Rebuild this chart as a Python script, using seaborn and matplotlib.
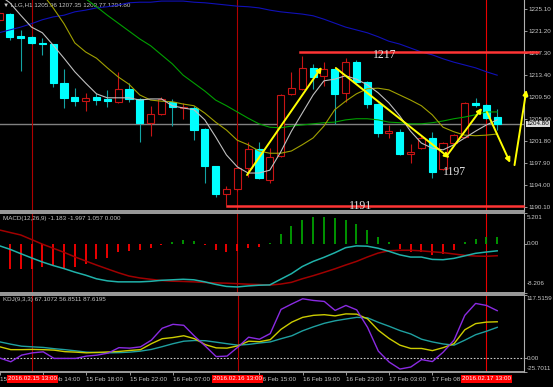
import numpy as np
import pandas as pd
import matplotlib
matplotlib.use('Agg')
import matplotlib.pyplot as plt
from matplotlib.patches import Rectangle
import seaborn as sns

# LLG H1 candles (oldest first)
opens = [1223.2, 1224.2, 1220.3, 1220.15, 1219.1, 1218.9, 1212.0, 1209.55, 1208.85, 1209.55,
         1209.25, 1208.65, 1210.95, 1209.2, 1204.95, 1206.55, 1208.65, 1207.6, 1207.6, 1203.9,
         1197.35, 1192.4, 1193.3, 1197.0, 1200.35, 1194.85, 1199.1, 1210.05, 1210.95, 1214.65,
         1213.25, 1214.5, 1210.25, 1215.75, 1212.2, 1208.3, 1203.2, 1203.35, 1199.45, 1200.55,
         1202.3, 1196.8, 1201.4, 1202.45, 1208.5, 1208.15, 1205.96]
highs = [1224.9, 1224.4, 1221.4, 1220.3, 1220.0, 1219.0, 1214.5, 1211.15, 1210.25, 1210.25,
         1210.8, 1213.95, 1212.0, 1209.3, 1207.95, 1209.55, 1209.2, 1208.5, 1207.95, 1204.0,
         1197.4, 1193.8, 1197.2, 1201.6, 1201.6, 1200.55, 1210.1, 1213.95, 1216.8, 1215.4,
         1215.75, 1214.6, 1216.45, 1216.1, 1212.3, 1208.4, 1204.6, 1203.9, 1201.25, 1202.85,
         1203.35, 1201.6, 1203.0, 1208.65, 1209.35, 1208.3, 1207.35]
lows = [1222.8, 1219.6, 1214.1, 1218.9, 1217.0, 1211.3, 1207.6, 1207.95, 1207.05, 1208.15,
        1207.8, 1208.5, 1208.65, 1201.6, 1202.65, 1206.35, 1204.4, 1205.65, 1201.95, 1194.35,
        1191.85, 1190.45, 1193.0, 1195.4, 1195.0, 1194.35, 1198.9, 1209.9, 1210.8, 1210.95,
        1211.5, 1204.75, 1208.65, 1212.0, 1207.6, 1202.45, 1202.3, 1199.3, 1197.9, 1200.4,
        1195.25, 1196.6, 1201.2, 1202.3, 1207.8, 1205.6, 1203.77]
closes = [1224.4, 1220.15, 1220.0, 1219.1, 1218.9, 1212.0, 1209.4, 1208.85, 1209.35, 1209.1,
          1208.85, 1210.95, 1209.2, 1204.95, 1206.55, 1209.2, 1207.8, 1207.8, 1203.7, 1197.35,
          1192.4, 1193.3, 1197.0, 1200.35, 1195.25, 1198.95, 1209.9, 1211.15, 1214.65, 1213.1,
          1214.5, 1210.05, 1215.75, 1212.2, 1208.3, 1203.2, 1203.55, 1199.45, 1199.8, 1202.3,
          1196.3, 1201.4, 1202.85, 1208.5, 1208.15, 1205.85, 1204.80]

# moving averages drawn on the price chart
ma_silver = [1227.6, 1226.2, 1224.0, 1221.9, 1220.9, 1218.7, 1216.4, 1214.0, 1212.0, 1210.1,
             1209.4, 1209.4, 1209.4, 1209.0, 1209.2, 1209.2, 1208.0, 1207.6, 1207.3, 1205.5,
             1202.5, 1199.3, 1197.2, 1196.1, 1196.1, 1196.6, 1199.8, 1203.5, 1206.7, 1209.9,
             1212.4, 1212.7, 1213.3, 1212.7, 1211.7, 1210.3, 1208.5, 1206.2, 1203.5, 1201.4,
             1200.5, 1200.2, 1201.1, 1202.3, 1203.5, 1204.6, 1205.5]
ma_olive = [1237.3, 1235.0, 1232.7, 1230.2, 1227.8, 1225.3, 1222.5, 1219.1, 1217.5, 1216.4,
            1214.7, 1213.1, 1211.8, 1209.9, 1209.0, 1208.8, 1208.7, 1208.3, 1208.0, 1206.7,
            1205.1, 1203.7, 1201.9, 1201.1, 1200.0, 1199.6, 1199.6, 1200.0, 1201.1, 1202.3,
            1204.4, 1207.3, 1208.8, 1210.1, 1211.0, 1211.1, 1210.8, 1209.9, 1209.0, 1208.0,
            1206.4, 1204.2, 1203.4, 1202.8, 1202.7, 1202.8, 1203.0]
ma_green = [1238.4, 1236.9, 1235.5, 1234.1, 1232.7, 1231.1, 1229.7, 1228.3, 1226.9, 1225.5,
            1224.0, 1222.6, 1221.2, 1219.8, 1218.6, 1217.0, 1215.4, 1213.4, 1212.0, 1210.6,
            1209.0, 1208.0, 1206.9, 1205.8, 1204.8, 1204.2, 1204.1, 1204.4, 1204.6, 1204.8,
            1205.0, 1205.1, 1205.5, 1205.7, 1205.7, 1205.5, 1205.1, 1205.0, 1204.8, 1204.8,
            1205.0, 1205.3, 1205.7, 1206.0, 1206.4, 1206.9, 1206.9]
ma_blue = [1220.9, 1221.4, 1221.9, 1222.5, 1223.2, 1223.7, 1224.0, 1224.6, 1224.9, 1225.3,
           1225.5, 1225.8, 1226.2, 1226.3, 1226.3, 1226.5, 1226.5, 1226.5, 1226.3, 1226.2,
           1226.0, 1225.8, 1225.6, 1225.5, 1225.3, 1224.9, 1224.6, 1224.4, 1224.2, 1223.9,
           1223.3, 1222.6, 1221.9, 1221.4, 1220.9, 1220.2, 1219.4, 1218.9, 1218.2, 1217.5,
           1217.0, 1216.3, 1215.7, 1215.2, 1214.7, 1214.0, 1213.4]

# MACD(12,26,9)
macd_main = [-0.32, -0.92, -1.65, -2.36, -3.04, -3.63, -4.14, -4.73, -5.24, -5.84,
             -6.18, -6.35, -6.35, -6.35, -6.26, -6.09, -6.01, -5.92, -6.01, -6.35,
             -6.77, -7.11, -7.20, -7.03, -6.91, -6.86, -5.92, -4.99, -3.80, -2.95,
             -2.27, -1.51, -0.66, -0.36, -0.41, -0.75, -1.26, -1.85, -2.22, -2.22,
             -2.61, -2.66, -2.44, -2.02, -1.60, -1.38, -1.183]
macd_signal = [2.31, 1.88, 1.46, 0.70, -0.07, -0.75, -1.43, -2.19, -2.87, -3.55,
               -4.19, -4.82, -5.38, -5.70, -5.92, -6.13, -6.24, -6.28, -6.35, -6.45,
               -6.52, -6.57, -6.65, -6.74, -6.80, -6.89, -6.72, -6.43, -5.84, -5.33,
               -4.77, -4.19, -3.55, -2.95, -2.22, -1.56, -1.17, -1.09, -1.09, -1.19,
               -1.34, -1.48, -1.71, -1.93, -2.05, -2.09, -1.997]
macd_hist = [-3.63, -4.19, -4.19, -4.19, -3.80, -3.63, -4.09, -3.92, -3.34, -2.61,
             -2.39, -1.37, -1.20, -1.09, -0.70, -0.24, 0.32, 0.61, 0.44, -0.24,
             -1.09, -1.37, -1.26, -0.70, -0.53, 0.05, 1.63, 2.87, 3.89, 4.40,
             4.51, 4.29, 4.00, 3.33, 2.31, 1.07, 0.22, -0.92, -1.37, -1.37,
             -1.82, -1.65, -1.09, 0.22, 0.78, 1.07, 1.057]

# KDJ(9,3,3)
kdj_k = [20.8, 15.6, 15.6, 16.0, 15.6, 14.7, 11.9, 11.0, 9.7, 10.5,
         11.4, 12.3, 14.1, 15.6, 26.6, 35.8, 38.0, 41.3, 35.8, 24.8,
         18.9, 18.4, 22.6, 31.2, 30.3, 34.0, 53.2, 66.5, 75.3, 79.0,
         80.2, 78.0, 81.7, 81.2, 72.5, 51.4, 36.2, 23.9, 17.8, 17.8,
         13.8, 19.3, 26.6, 52.3, 63.7, 66.5, 67.1072]
kdj_d = [29.9, 25.7, 22.0, 20.8, 19.7, 17.4, 15.6, 13.4, 11.0, 10.3,
         9.7, 10.1, 11.0, 12.9, 16.0, 21.1, 26.6, 31.2, 32.5, 32.1,
         29.4, 26.6, 23.9, 25.3, 27.9, 29.9, 35.8, 41.3, 50.5, 57.8,
         64.3, 68.9, 72.2, 75.3, 74.4, 66.1, 58.8, 50.9, 44.6, 34.9,
         29.9, 26.1, 23.9, 33.1, 43.2, 49.6, 56.8511]
kdj_j = [0.0, -6.8, 5.5, 9.7, 11.6, -0.6, -0.6, -0.6, 3.7, 5.5,
         9.2, 19.3, 18.4, 20.8, 33.1, 55.1, 62.4, 60.6, 40.4, 22.0,
         2.8, 3.7, 20.2, 38.6, 34.9, 45.3, 90.0, 100.1, 109.6, 106.5,
         104.7, 88.1, 97.3, 89.1, 56.9, 12.9, -7.3, -20.2, -16.5, -2.8,
         -6.4, 11.0, 33.1, 79.0, 101.0, 97.3, 87.6195]

price_ticks = [1225.10, 1221.20, 1217.30, 1213.40, 1209.50, 1205.60, 1201.80, 1197.90, 1194.00, 1190.10]
last_price = 1204.80
# time labels fully hidden behind the red date boxes are left out
time_bars = [0, 4, 8, 12, 16, 24, 28, 32, 36, 40]
time_labels = ['15 Feb 10:00', '15 Feb 14:00', '15 Feb 18:00', '15 Feb 22:00', '16 Feb 07:00',
               '16 Feb 15:00', '16 Feb 19:00', '16 Feb 23:00', '17 Feb 03:00', '17 Feb 08:00']
vline_bars = [3, 22, 45]
vline_labels = ['2016.02.15 13:00', '2016.02.16 13:00', '2016.02.17 13:00']
resistance = 1217.5
support = 1190.27

df = pd.DataFrame({'bar': np.arange(len(closes)), 'open': opens, 'high': highs,
                   'low': lows, 'close': closes})

small = 4.5
txt = '#C8C8C8'
fig = plt.figure(figsize=(5.53, 3.87), dpi=100, facecolor='black')
W, H = 553.0, 387.0


def panel(top, bottom):
    a = fig.add_axes([0, 1 - bottom / H, 523.5 / W, (bottom - top) / H])
    a.set_facecolor('black')
    a.spines['left'].set_visible(False)
    a.spines['right'].set_color('#B0B0B0')
    a.spines['right'].set_linewidth(0.8)
    for s in ['top', 'bottom']:
        a.spines[s].set_color('#A8A8A8')
        a.spines[s].set_linewidth(1.3)
    a.set_xlim(0.09, 48.43)
    a.yaxis.tick_right()
    a.tick_params(axis='y', length=2, width=0.6, color='#B0B0B0', labelsize=small,
                  labelcolor=txt, pad=1.5)
    return a


ax = panel(0, 211)
ax.spines['top'].set_visible(False)
ax_m = panel(212.5, 293)
ax_k = panel(294.5, 372)

# ---- price panel ----
ax.set_ylim(1189.39, 1226.69)
ax.axhline(last_price, color='#808080', lw=1.0, zorder=2)
bw = 0.66
for r in df.itertuples():
    up = r.close >= r.open
    edge = '#C81414' if up else '#00FFFF'
    wick = '#C81414' if up else '#13A3A3'
    ax.vlines(r.bar, r.low, r.high, color=wick, lw=0.8, zorder=3)
    lo, hi = min(r.open, r.close), max(r.open, r.close)
    ax.add_patch(Rectangle((r.bar - bw / 2, lo), bw, max(hi - lo, 0.15),
                           facecolor='black' if up else '#00FFFF',
                           edgecolor=edge, lw=0.8, zorder=4))

for vals, col in [(ma_blue, '#1010B8'), (ma_green, '#00A000'),
                  (ma_olive, '#A0A000'), (ma_silver, '#C0C0C0')]:
    sns.lineplot(x=df['bar'], y=vals, ax=ax, color=col, linewidth=0.8, zorder=5, legend=False)

ax.plot([27.8, 49.8], [resistance] * 2, color='#FF3434', lw=1.8, clip_on=False, zorder=6)
ax.plot([21.06, 48.4], [support] * 2, color='#FF3434', lw=1.8, clip_on=False, zorder=6)
serif = dict(family='Liberation Serif', fontsize=8.5, color='#E4E4E4', zorder=7)
ax.text(35.6, 1216.9, '1217', ha='center', va='center', **serif)
ax.text(33.4, 1190.2, '1191', ha='center', va='center', **serif)
ax.text(42.1, 1196.3, '1197', ha='center', va='center', **serif)

arrows = [((22.9, 1195.75), (29.8, 1214.85)), ((31.1, 1214.67), (41.6, 1198.76)),
          ((41.4, 1199.3), (44.6, 1207.6)), ((45.05, 1206.9), (47.2, 1197.9)),
          ((47.6, 1197.5), (48.7, 1210.8))]
for start, end in arrows:
    ax.annotate('', xy=end, xytext=start, annotation_clip=False, zorder=8,
                arrowprops=dict(arrowstyle='-|>', color='#FFFF00', lw=1.4,
                                mutation_scale=7, shrinkA=0, shrinkB=0))

ax.set_yticks(price_ticks)
ax.set_yticklabels(['%.2f' % v for v in price_ticks])
ax.set_xticks([])
ax.text(1.006, last_price, '%.2f' % last_price, transform=ax.get_yaxis_transform(),
        fontsize=small, color='black', va='center', ha='left', zorder=9,
        bbox=dict(facecolor='#DCDCDC', edgecolor='none', pad=0.5))
ax.text(0.006, 0.976, '\u25bc LLG,H1 1205.96 1207.35 1203.77 1204.80', transform=ax.transAxes,
        fontsize=small, color=txt, va='center', ha='left', family=['Liberation Sans', 'DejaVu Sans'])

# ---- MACD panel ----
ax_m.set_ylim(-8.206, 5.201)
hist_cols = ['#00A000' if v > 0 else '#FF0000' for v in macd_hist]
ax_m.vlines(df['bar'], 0, macd_hist, colors=hist_cols, lw=1.3, zorder=3)
sns.lineplot(x=df['bar'], y=macd_signal, ax=ax_m, color='#A00000', linewidth=1.1, zorder=4, legend=False)
sns.lineplot(x=df['bar'], y=macd_main, ax=ax_m, color='#20B2AA', linewidth=1.1, zorder=5, legend=False)
ax_m.set_xticks([])
ax_m.set_yticks([5.201, 0, -8.206])
ax_m.set_yticklabels([])
ax_m.text(1.006, 0.944, '5.201', transform=ax_m.transAxes, fontsize=small, color=txt, va='center')
ax_m.text(1.006, 0.0, '0.00', transform=ax_m.get_yaxis_transform(), fontsize=small, color=txt, va='center')
ax_m.text(1.006, 0.112, '-8.206', transform=ax_m.transAxes, fontsize=small, color=txt, va='center')
ax_m.text(0.006, 0.92, 'MACD(12,26,9) -1.183 -1.997 1.057 0.000', transform=ax_m.transAxes,
          fontsize=small, color=txt, va='center')

# ---- KDJ panel ----
ax_k.set_ylim(-25.7011, 117.5159)
ax_k.axhline(0, color='#C8C8C8', lw=0.8, ls=(0, (1.5, 1.5)), zorder=2)
sns.lineplot(x=df['bar'], y=kdj_d, ax=ax_k, color='#1FA0A0', linewidth=1.0, zorder=3, legend=False)
sns.lineplot(x=df['bar'], y=kdj_k, ax=ax_k, color='#CCCC00', linewidth=1.0, zorder=4, legend=False)
sns.lineplot(x=df['bar'], y=kdj_j, ax=ax_k, color='#8A2BE2', linewidth=1.0, zorder=5, legend=False)
ax_k.set_yticks([117.5159, 0, -25.7011])
ax_k.set_yticklabels([])
ax_k.text(1.006, 0.942, '117.5159', transform=ax_k.transAxes, fontsize=small, color=txt, va='center')
ax_k.text(1.006, 0.0, '0.00', transform=ax_k.get_yaxis_transform(), fontsize=small, color=txt, va='center')
ax_k.text(1.006, 0.045, '-25.7011', transform=ax_k.transAxes, fontsize=small, color=txt, va='center')
ax_k.text(0.006, 0.93, 'KDJ(9,3,3) 67.1072 56.8511 87.6195', transform=ax_k.transAxes,
          fontsize=small, color=txt, va='center')
ax_k.set_xticks(time_bars)
ax_k.set_xticklabels(time_labels, ha='left')
ax_k.tick_params(axis='x', length=2, width=0.6, color='#B0B0B0', labelsize=small,
                 labelcolor=txt, pad=1.5)
for b, lab in zip(vline_bars, vline_labels):
    ax_k.text(b, -0.09, lab, transform=ax_k.get_xaxis_transform(), ha='center', va='center',
              fontsize=small, color='white', zorder=10,
              bbox=dict(facecolor='#FF0000', edgecolor='none', pad=0.8))

for a in (ax, ax_m, ax_k):
    a.set_xlabel('')
    a.set_ylabel('')
    for b, col in zip(vline_bars, ['#B00000', '#B00000', '#E80000']):
        a.axvline(b, color=col, lw=0.8, zorder=2.5)

plt.rcParams['font.family'] = ['Liberation Sans', 'DejaVu Sans']
for t in fig.findobj(matplotlib.text.Text):
    if t.get_fontfamily() == ['DejaVu Sans'] or t.get_fontfamily() == ['sans-serif']:
        t.set_fontfamily(['Liberation Sans', 'DejaVu Sans'])

fig.savefig('out.png', dpi=100, facecolor='black')
